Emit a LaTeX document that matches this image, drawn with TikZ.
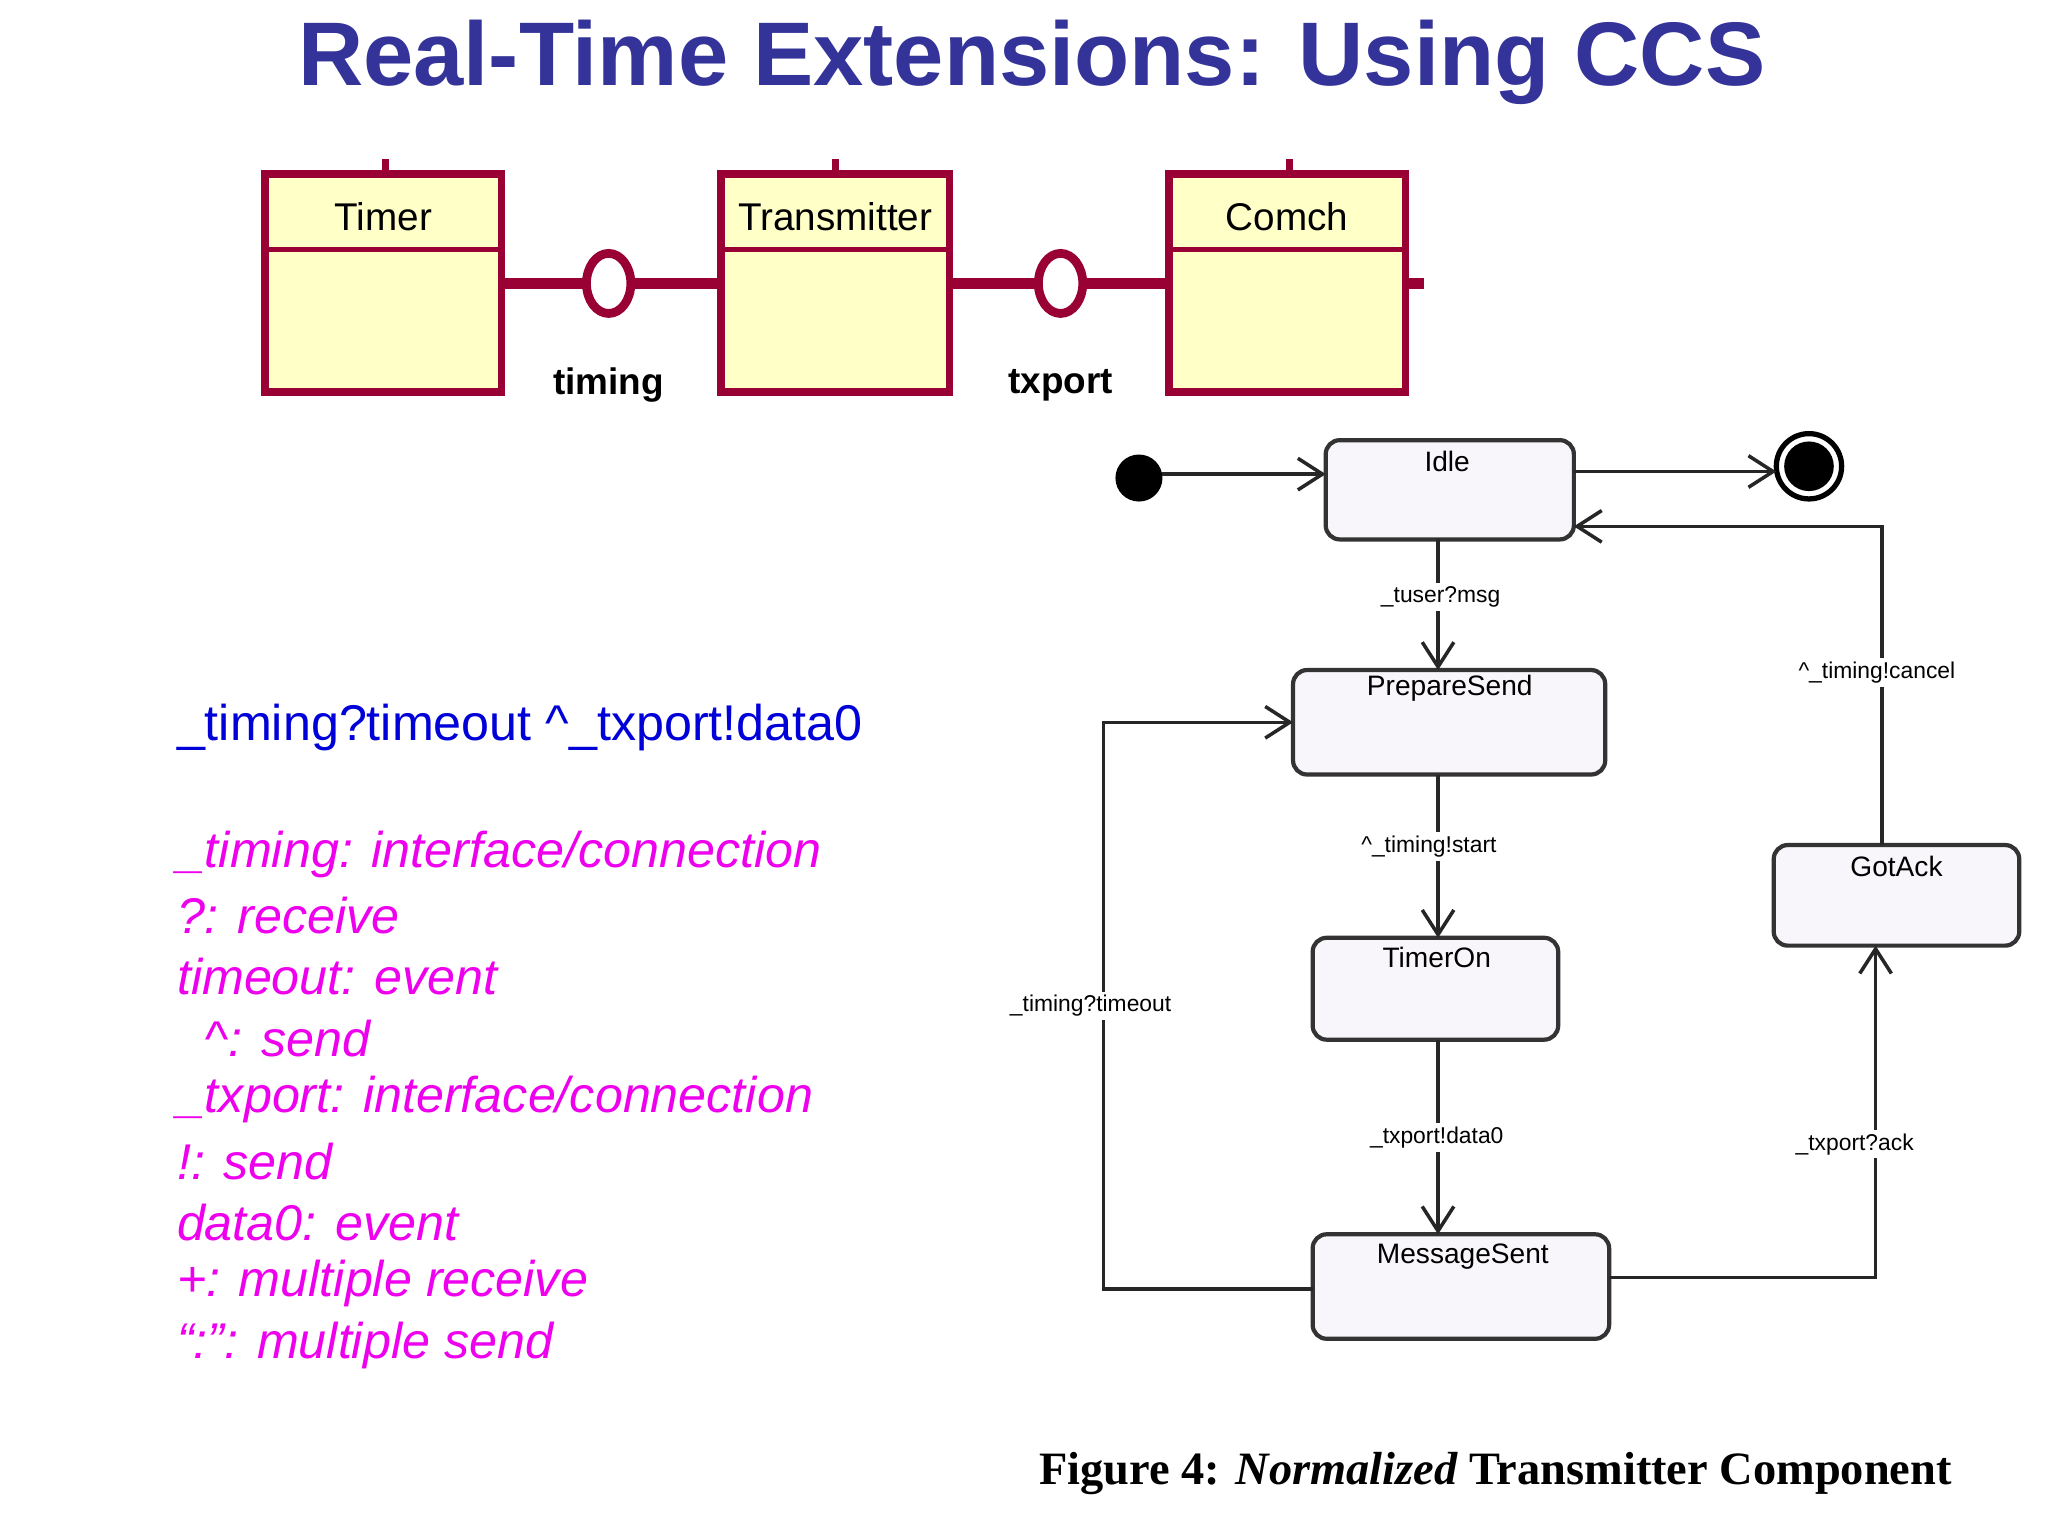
\documentclass[tikz,border=0pt]{standalone}
\usepackage{fontspec}
\setmainfont{Liberation Sans}
\newfontfamily\capfont{Liberation Serif}
\usetikzlibrary{arrows.meta}
\definecolor{ttl}{HTML}{333399}
\definecolor{cls}{HTML}{990033}
\definecolor{clsfill}{HTML}{FFFFC8}
\definecolor{mag}{HTML}{EE00EE}
\definecolor{stfill}{HTML}{F8F6FA}
\tikzset{
 x=0.013061cm,y=-0.013061cm,
 clsbox/.style={draw=cls,line width=2.2pt,fill=clsfill},
 conn/.style={draw=cls,line width=3pt},
 st/.style={draw=black!80,line width=1.2pt,rounded corners=4pt,fill=stfill},
 stlab/.style={font=\fontsize{8}{9}\selectfont},
 trlab/.style={font=\fontsize{6.5}{7}\selectfont,fill=white,inner sep=1pt},
 tr/.style={draw=black!85,line width=1pt,-{Straight Barb[length=7pt,width=9pt]}},
 mtxt/.style={anchor=west,text=mag,font=\fontsize{14.3}{16}\selectfont\itshape,inner sep=0pt},
}
\begin{document}
\begin{tikzpicture}
\useasboundingbox[fill=white] (0,0) rectangle (1568,1176);
\node[text=ttl,font=\fontsize{25.7}{30}\selectfont\bfseries] (title) at (790,48) {Real-Time Extensions: Using CCS};
% class boxes
\foreach \n/\a/\b/\m/\t in {timer/203/384/295/Timer,trans/552/727/640/Transmitter,comch/895/1076/987/Comch}{
  \draw[cls,line width=2pt] (\m,122) -- (\m,133);
  \draw[clsbox] (\a,133) rectangle (\b,300);
  \draw[cls,line width=1.5pt] (\a,191) -- (\b,191);
  \node[font=\fontsize{11}{13}\selectfont] (\n) at ({(\a+\b)/2},166) {\t};
}
\coordinate (t1) at (384,217); \coordinate (t2) at (552,217);
\coordinate (t3) at (727,217); \coordinate (t4) at (895,217);
\coordinate (t5) at (1076,217); \coordinate (t6) at (1090,217);
\draw[conn] (t1) -- (t2); \draw[conn] (t3) -- (t4); \draw[conn] (t5) -- (t6);
\draw[cls,line width=2.5pt,fill=white] (466,217) ellipse [x radius=17,y radius=23];
\draw[cls,line width=2.5pt,fill=white] (812,217) ellipse [x radius=17,y radius=23];
\node[font=\fontsize{10.5}{12}\selectfont\bfseries] (lt) at (466,295) {timing};
\node[font=\fontsize{10.5}{12}\selectfont\bfseries] (lx) at (812,295) {txport};
% text left
\node[anchor=west,text=blue!85!black,font=\fontsize{14.3}{16}\selectfont,inner sep=0pt] (ccs) at (135,557) {\_timing?timeout \^{}\_txport!data0};
\node[mtxt] at (135,654) {\_timing: interface/connection};
\node[mtxt] at (135,701) {?: receive};
\node[mtxt] at (135,748) {timeout: event};
\node[mtxt] at (135,795) {\ \ \^{}: send};
\node[mtxt] at (135,842) {\_txport: interface/connection};
\node[mtxt] at (135,889) {!: send};
\node[mtxt] at (135,936) {data0: event};
\node[mtxt] at (135,983) {+: multiple receive};
\node[mtxt] at (135,1030) {“:”: multiple send};
% state machine
\fill (872,366) circle (18) coordinate (init);
\draw[line width=1.5pt] (1385,357) circle (25);
\fill (1385,357) circle (19) coordinate (fin);
\draw[st] (1015,337) rectangle (1205,413); \node[stlab] (idle) at (1108,353) {Idle};
\draw[st] (990,513) rectangle (1229,593); \node[stlab] (ps) at (1110,527) {PrepareSend};
\draw[st] (1005,718) rectangle (1193,796); \node[stlab] (to) at (1100,733) {TimerOn};
\draw[st] (1005,945) rectangle (1232,1025); \node[stlab] (ms) at (1120,962) {MessageSent};
\draw[st] (1358,647) rectangle (1546,724); \node[stlab] (ga) at (1452,663) {GotAck};
\draw[tr] (890,363) -- (1015,363);
\draw[tr] (1205,361) -- (1360,361);
\draw[tr] (1101,413) -- (1101,513);
\draw[tr] (1101,593) -- (1101,718);
\draw[tr] (1101,796) -- (1101,945);
\draw[tr] (1232,978) -| (1436,724);
\draw[tr] (1441,647) |- (1205,403);
\draw[tr] (1005,987) -| (845,553) -- (990,553);
\node[trlab] at (1103,457) {\_tuser?msg};
\node[trlab] at (1094,648) {\^{}\_timing!start};
\node[trlab] at (1100,871) {\_txport!data0};
\node[trlab] at (1420,876) {\_txport?ack};
\node[trlab] at (1437,515) {\^{}\_timing!cancel};
\node[trlab] at (835,770) {\_timing?timeout};
\node[font=\capfont\fontsize{13.2}{16}\selectfont\bfseries] (cap) at (1145,1128) {Figure 4: \textit{Normalized} Transmitter Component};
\end{tikzpicture}
\end{document}
